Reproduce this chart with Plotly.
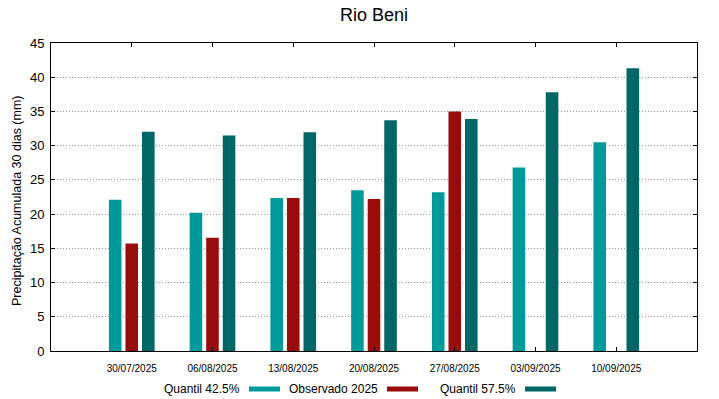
import plotly.graph_objects as go

dates = ["30/07/2025", "06/08/2025", "13/08/2025", "20/08/2025",
         "27/08/2025", "03/09/2025", "10/09/2025"]
q425 = [22.1, 20.2, 22.35, 23.5, 23.2, 26.8, 30.5]
obs2025 = [15.7, 16.55, 22.35, 22.2, 35.0, None, None]
q575 = [32.05, 31.5, 31.95, 33.7, 33.9, 37.8, 41.3]
yticks = [0, 5, 10, 15, 20, 25, 30, 35, 40, 45]

names = ["Quantil 42.5%", "Observado 2025", "Quantil 57.5%"]
colors = ["#009a9a", "#990c0c", "#006666"]
series = [q425, obs2025, q575]

xpos = list(range(len(dates)))

W, H = 719, 399
ML, MR, MT, MB = 51, 22, 43, 48
PW, PH = W - ML - MR, H - MT - MB


def px_x(px):
    return (px - ML) / PW


def px_y(py):
    return (H - MB - py) / PH


fig = go.Figure()
for name, col, vals in zip(names, colors, series):
    fig.add_trace(go.Bar(x=xpos, y=vals, name=name, marker_color=col,
                         marker_line_width=0, showlegend=False))

font_family = "Liberation Sans, Arial, sans-serif"

fig.update_layout(
    width=W, height=H,
    margin=dict(l=ML, r=MR, t=MT, b=MB, autoexpand=False),
    paper_bgcolor="white", plot_bgcolor="white",
    barmode="group", bargap=0.385, bargroupgap=0.24,
    font=dict(family=font_family, color="black"),
    title=dict(text="Rio Beni", x=374 / W, xanchor="center",
               y=1 - 15 / H, yanchor="middle",
               font=dict(size=18, family=font_family, color="black")),
    xaxis=dict(range=[-1, 7], tickvals=xpos, ticktext=dates,
               tickfont=dict(size=10), ticks="inside", ticklen=4,
               tickcolor="black", showline=True, linecolor="black",
               linewidth=1, mirror="allticks", showgrid=False,
               zeroline=False, automargin=False, ticklabelstandoff=8),
    yaxis=dict(range=[0, 45], tickvals=yticks, tickfont=dict(size=13),
               ticks="inside", ticklen=4, tickcolor="black",
               showline=True, linecolor="black", linewidth=1,
               mirror="allticks", showgrid=True, gridcolor="#9a9a9a",
               griddash="1px,2px", gridwidth=1, zeroline=False,
               automargin=False, ticklabelstandoff=3),
)

fig.add_annotation(text="Precipitação Acumulada 30 dias (mm)",
                   x=px_x(17), y=px_y(201), xref="paper", yref="paper",
                   xanchor="center", yanchor="middle", textangle=-90,
                   showarrow=False,
                   font=dict(size=12.5, family=font_family, color="black"))

# gnuplot-style legend: text followed by sample line
legend_items = [
    (242, 249, 280),
    (380, 387, 418),
    (518, 525, 556),
]
ly = px_y(389)
for (name, col), (tx, s0, s1) in zip(zip(names, colors), legend_items):
    fig.add_annotation(text=name, x=px_x(tx), y=ly, xref="paper", yref="paper",
                       xanchor="right", yanchor="middle", showarrow=False,
                       font=dict(size=12, family=font_family, color="black"))
    fig.add_shape(type="line", xref="paper", yref="paper",
                  x0=px_x(s0), x1=px_x(s1), y0=ly, y1=ly,
                  line=dict(color=col, width=5))

fig.write_html("out.html", config={"displayModeBar": False},
               post_script="document.body.style.margin='0';")
